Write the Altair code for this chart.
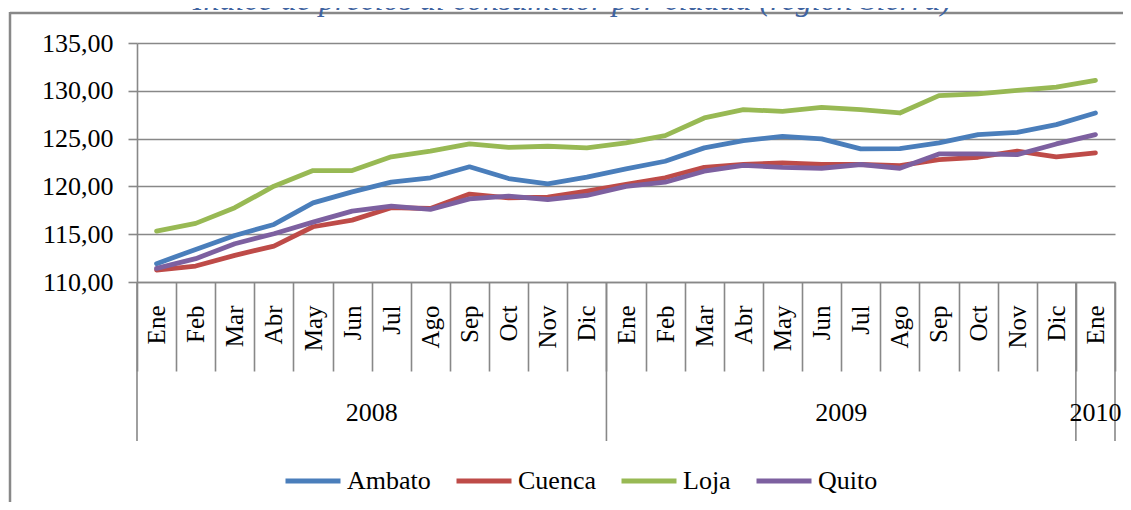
import altair as alt
import pandas as pd

# ---------------- data ----------------
months = ["Ene", "Feb", "Mar", "Abr", "May", "Jun", "Jul", "Ago", "Sep", "Oct", "Nov", "Dic",
          "Ene", "Feb", "Mar", "Abr", "May", "Jun", "Jul", "Ago", "Sep", "Oct", "Nov", "Dic",
          "Ene"]
years = ["2008"] * 12 + ["2009"] * 12 + ["2010"]

cities = ["Ambato", "Cuenca", "Loja", "Quito"]
ambato = [111.92, 113.41, 114.87, 116.02, 118.28, 119.43, 120.44, 120.90, 122.05, 120.82, 120.27, 120.96,
          121.83, 122.63, 124.03, 124.79, 125.24, 124.97, 123.92, 123.96, 124.55, 125.42, 125.66, 126.46,
          127.68]
cuenca = [111.25, 111.67, 112.79, 113.76, 115.78, 116.47, 117.77, 117.69, 119.20, 118.80, 118.87, 119.50,
          120.20, 120.90, 122.00, 122.30, 122.46, 122.29, 122.29, 122.18, 122.81, 123.05, 123.68, 123.09,
          123.50]
loja = [115.32, 116.13, 117.77, 120.02, 121.66, 121.66, 123.10, 123.68, 124.44, 124.09, 124.20, 124.03,
        124.55, 125.31, 127.16, 128.03, 127.85, 128.27, 128.03, 127.68, 129.49, 129.67, 130.04, 130.39,
        131.09]
quito = [111.43, 112.44, 114.00, 115.05, 116.26, 117.41, 117.93, 117.59, 118.70, 118.98, 118.63, 119.05,
         120.00, 120.44, 121.59, 122.20, 122.00, 121.90, 122.29, 121.90, 123.40, 123.40, 123.33, 124.44,
         125.42]
colors = ["#4A7EBB", "#BE4B48", "#98B954", "#7D60A0"]
y_ticks = [110, 115, 120, 125, 130, 135]
title_text = "Índice de precios al consumidor por ciudad (región Sierra)"

# ---------------- tables ----------------
keys = [f"{m} {y}" for m, y in zip(months, years)]
rows = []
for city, vals in zip(cities, [ambato, cuenca, loja, quito]):
    for k, v in zip(keys, vals):
        rows.append({"periodo": k, "ciudad": city, "valor": v})
df = pd.DataFrame(rows)

year_list = []
for y in years:
    if y not in year_list:
        year_list.append(y)
starts, mids_even, mids_odd = [], [], []
for y in year_list:
    idx = [i for i, yy in enumerate(years) if yy == y]
    starts.append({"periodo": keys[idx[0]]})
    mid = keys[idx[0] + len(idx) // 2]
    if len(idx) % 2 == 0:
        mids_even.append({"periodo": mid, "anio": y})
    else:
        mids_odd.append({"periodo": mid, "anio": y})
end_sep = [{"periodo": keys[-1]}]

# ---------------- styling ----------------
W, H = 978, 239
GRAY = "#888888"
FONT = "Liberation Serif"

xscale = alt.Scale(type="band", domain=keys, paddingInner=0, paddingOuter=0)
x_axis = alt.Axis(
    title=None, labelExpr="split(datum.label, ' ')[0]", labelAngle=-90,
    labelAlign="right", labelBaseline="middle", labelFontSize=25, labelFont=FONT,
    labelColor="black", labelPadding=-66, labelOverlap=False, tickBand="extent",
    tickSize=89, tickColor=GRAY, tickWidth=1.6, domainColor=GRAY, domainWidth=1.6,
    grid=False,
)
y_axis = alt.Axis(
    title=None, values=y_ticks,
    labelExpr="replace(format(datum.value, '.2f'), '.', ',')",
    labelFontSize=26, labelFont=FONT, labelColor="black", labelPadding=15,
    tickSize=9, tickColor=GRAY, tickWidth=1.6, domainColor=GRAY, domainWidth=1.6,
    grid=True, gridColor=GRAY, gridWidth=1.6,
)

lines = alt.Chart(df).mark_line(strokeWidth=4.8, strokeCap="round", strokeJoin="round").encode(
    x=alt.X("periodo:N", scale=xscale, axis=x_axis, bandPosition=0.5, sort=keys),
    y=alt.Y("valor:Q", scale=alt.Scale(domain=[110, 135], nice=False, zero=False), axis=y_axis),
    color=alt.Color(
        "ciudad:N", scale=alt.Scale(domain=cities, range=colors),
        legend=alt.Legend(
            orient="none", legendX=146, legendY=408, direction="horizontal", title=None,
            symbolType="stroke", symbolSize=3025, symbolStrokeWidth=5,
            labelFontSize=26, labelFont=FONT, labelColor="black", labelOffset=4,
            columnPadding=15, padding=0,
        ),
    ),
)

year_seps = alt.Chart(alt.Data(values=starts)).mark_rule(color=GRAY, strokeWidth=1.6).encode(
    x=alt.X("periodo:N", scale=xscale, axis=x_axis, bandPosition=0),
    y=alt.value(H), y2=alt.value(H + 159),
)
year_end = alt.Chart(alt.Data(values=end_sep)).mark_rule(color=GRAY, strokeWidth=1.6).encode(
    x=alt.X("periodo:N", scale=xscale, axis=x_axis, bandPosition=1),
    y=alt.value(H), y2=alt.value(H + 159),
)
year_text_even = alt.Chart(alt.Data(values=mids_even)).mark_text(
    font=FONT, fontSize=26, color="black", baseline="middle", align="center"
).encode(
    x=alt.X("periodo:N", scale=xscale, axis=x_axis, bandPosition=0),
    y=alt.value(H + 131), text="anio:N",
)
year_text_odd = alt.Chart(alt.Data(values=mids_odd)).mark_text(
    font=FONT, fontSize=26, color="black", baseline="middle", align="center"
).encode(
    x=alt.X("periodo:N", scale=xscale, axis=x_axis, bandPosition=0.5),
    y=alt.value(H + 131), text="anio:N",
)

one = alt.Data(values=[{"t": title_text}])
frame_top = alt.Chart(one).mark_rule(color=GRAY, strokeWidth=2.5).encode(
    x=alt.value(-127), x2=alt.value(W + 10), y=alt.value(-30),
)
frame_left = alt.Chart(one).mark_rule(color=GRAY, strokeWidth=2.5).encode(
    x=alt.value(-127), y=alt.value(-31), y2=alt.value(H + 230),
)
title = alt.Chart(one).mark_text(
    font=FONT, fontSize=32, fontStyle="italic", color="#3F63A0",
    baseline="alphabetic", align="center",
).encode(x=alt.value(435), y=alt.value(-33), text="t:N")

chart = alt.layer(
    frame_top, frame_left, title, year_seps, year_end, year_text_even, year_text_odd, lines
).properties(
    width=W, height=H,
    autosize=alt.AutoSizeParams(type="none"),
    padding={"left": 129, "top": 35, "right": 8, "bottom": 220},
).configure_view(stroke=None)

chart.save("out.html", embed_options={"renderer": "svg", "actions": False})
